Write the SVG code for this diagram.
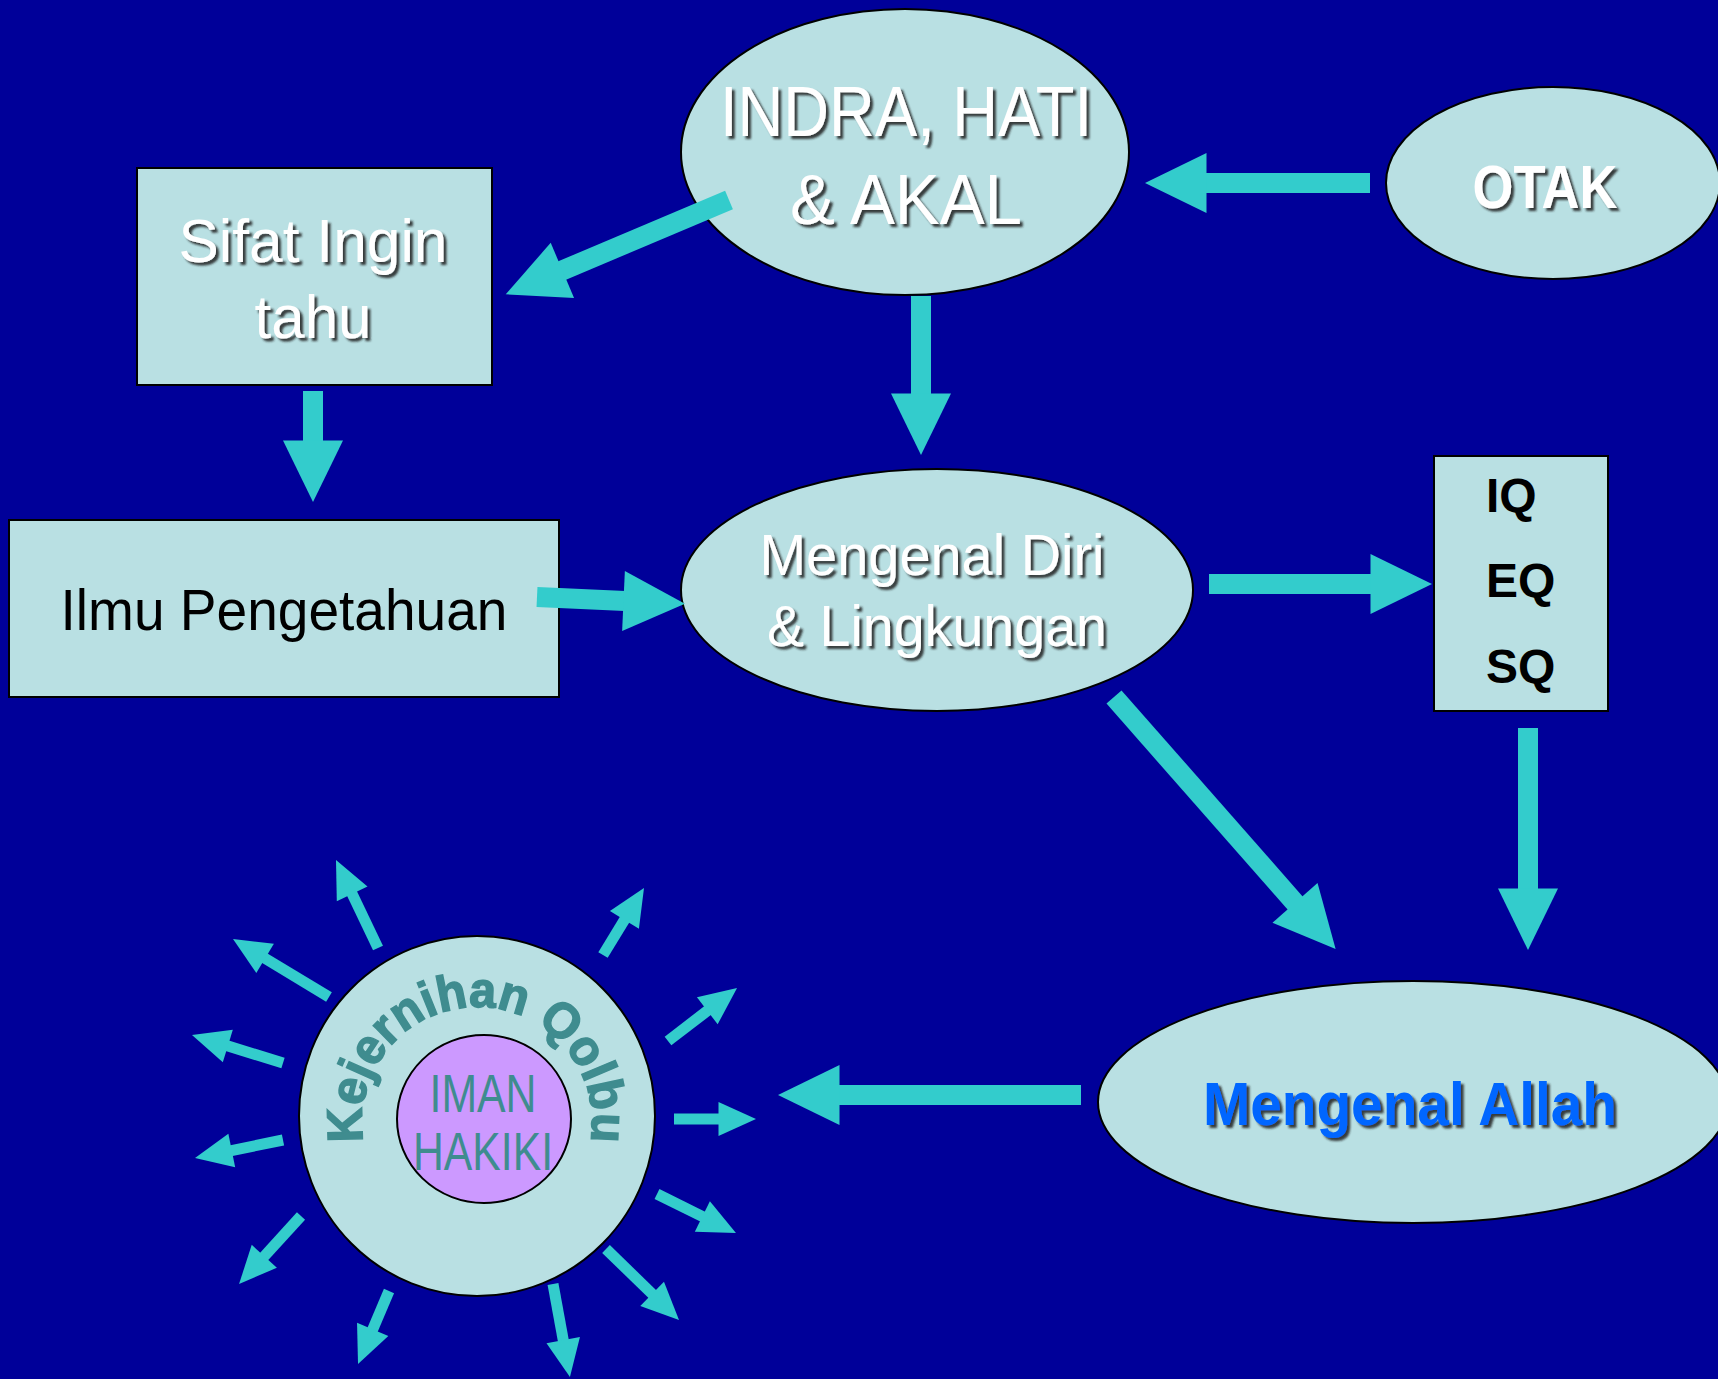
<svg xmlns="http://www.w3.org/2000/svg" width="1718" height="1379" viewBox="0 0 1718 1379">
<style>
.node{fill:#B9E0E3;stroke:#000;stroke-width:2}
.wt{font-family:"Liberation Sans",Arial,sans-serif;fill:#fff;text-anchor:middle;filter:url(#sh)}
.bk{font-family:"Liberation Sans",Arial,sans-serif;fill:#000;text-anchor:middle}
.tl{font-family:"Liberation Sans",Arial,sans-serif;fill:#3F8C8F;text-anchor:middle}
.m{stroke:#33CCCC;stroke-width:20;fill:none;marker-end:url(#hm)}
.s{stroke:#33CCCC;stroke-width:11;fill:none;marker-end:url(#hs)}
</style>
<defs>
<filter id="sh" x="-10%" y="-20%" width="130%" height="150%">
<feDropShadow dx="3" dy="3" stdDeviation="1.2" flood-color="#1a1a1a" flood-opacity="0.85"/>
</filter>
<marker id="hm" markerUnits="userSpaceOnUse" viewBox="-2 -30 62 60" markerWidth="62" markerHeight="60" refX="0" refY="0" orient="auto" overflow="visible">
<path d="M-1.5,-30 L60,0 L-1.5,30 z" fill="#33CCCC"/>
</marker>
<marker id="hs" markerUnits="userSpaceOnUse" viewBox="-2 -17 38 34" markerWidth="38" markerHeight="34" refX="0" refY="0" orient="auto" overflow="visible">
<path d="M-1.5,-17 L36,0 L-1.5,17 z" fill="#33CCCC"/>
</marker>
<path id="arc" d="M363.75,1141.97 A115,115 0 1 1 590.25,1141.97"/>
</defs>
<rect width="1718" height="1379" fill="#000099"/>

<g id="indra">
<ellipse class="node" cx="905" cy="152" rx="224" ry="143"/>
<text class="wt" x="906" y="136" font-size="70" textLength="372" lengthAdjust="spacingAndGlyphs">INDRA, HATI</text>
<text class="wt" x="906" y="224" font-size="70" textLength="232" lengthAdjust="spacingAndGlyphs">&amp; AKAL</text>
</g>
<g id="otak">
<ellipse class="node" cx="1553" cy="183" rx="167" ry="96"/>
<text class="wt" x="1545" y="208" font-size="62" font-weight="bold" textLength="145" lengthAdjust="spacingAndGlyphs">OTAK</text>
</g>
<g id="sifat">
<rect class="node" x="137" y="168" width="355" height="217"/>
<text class="wt" x="313" y="262" font-size="61" textLength="269" lengthAdjust="spacingAndGlyphs">Sifat Ingin</text>
<text class="wt" x="313" y="338" font-size="61" textLength="117" lengthAdjust="spacingAndGlyphs">tahu</text>
</g>
<g id="ilmu">
<rect class="node" x="9" y="520" width="550" height="177"/>
<text class="bk" x="284" y="630" font-size="58" textLength="447" lengthAdjust="spacingAndGlyphs">Ilmu Pengetahuan</text>
</g>
<g id="diri">
<ellipse class="node" cx="937" cy="590" rx="256" ry="121"/>
<text class="wt" x="932" y="575" font-size="58" textLength="345" lengthAdjust="spacingAndGlyphs">Mengenal Diri</text>
<text class="wt" x="937" y="646" font-size="58" textLength="340" lengthAdjust="spacingAndGlyphs">&amp; Lingkungan</text>
</g>
<g id="q">
<rect class="node" x="1434" y="456" width="174" height="255"/>
<text class="bk" x="1486" y="512" font-size="48" font-weight="bold" style="text-anchor:start">IQ</text>
<text class="bk" x="1486" y="597" font-size="48" font-weight="bold" style="text-anchor:start">EQ</text>
<text class="bk" x="1486" y="683" font-size="48" font-weight="bold" style="text-anchor:start">SQ</text>
</g>
<g id="allah">
<ellipse class="node" cx="1413" cy="1102" rx="315" ry="121"/>
<text class="wt" x="1410" y="1125" font-size="61" font-weight="bold" style="fill:#0066FF" textLength="414" lengthAdjust="spacingAndGlyphs">Mengenal Allah</text>
</g>
<g id="qolbu">
<ellipse class="node" cx="477" cy="1116" rx="178" ry="180"/>
<text class="tl" font-size="50" font-weight="bold" stroke="#3F8C8F" stroke-width="1.5" style="text-anchor:start"><textPath href="#arc" textLength="401" lengthAdjust="spacingAndGlyphs">Kejernihan Qolbu</textPath></text>
</g>
<g id="iman">
<ellipse cx="484" cy="1119" rx="87" ry="84" fill="#CC99FF" stroke="#000" stroke-width="2"/>
<text class="tl" x="483" y="1112" font-size="53" textLength="107" lengthAdjust="spacingAndGlyphs">IMAN</text>
<text class="tl" x="483" y="1170" font-size="53" textLength="140" lengthAdjust="spacingAndGlyphs">HAKIKI</text>
</g>

<g id="connectors">
<line class="m" x1="729" y1="200" x2="561" y2="271"/>
<line class="m" x1="921" y1="296" x2="921" y2="395"/>
<line class="m" x1="1370" y1="183" x2="1205" y2="183"/>
<line class="m" x1="313" y1="391" x2="313" y2="442"/>
<line class="m" x1="537" y1="597" x2="625" y2="601"/>
<line class="m" x1="1209" y1="584" x2="1372" y2="584"/>
<line class="m" x1="1114" y1="697" x2="1296" y2="904"/>
<line class="m" x1="1528" y1="728" x2="1528" y2="890"/>
<line class="m" x1="1081" y1="1095" x2="838" y2="1095"/>
<line class="s" x1="378" y1="948" x2="351.5" y2="892.5"/>
<line class="s" x1="329" y1="997" x2="263.8" y2="957.6"/>
<line class="s" x1="283" y1="1063" x2="226.4" y2="1045.6"/>
<line class="s" x1="283" y1="1140" x2="230.3" y2="1150.8"/>
<line class="s" x1="301" y1="1216" x2="263.3" y2="1257.4"/>
<line class="s" x1="389" y1="1291" x2="372.1" y2="1330.8"/>
<line class="s" x1="553" y1="1284" x2="563.5" y2="1341.6"/>
<line class="s" x1="606" y1="1249" x2="653.2" y2="1294.9"/>
<line class="s" x1="657" y1="1194" x2="703.7" y2="1217.1"/>
<line class="s" x1="674" y1="1119" x2="720" y2="1119"/>
<line class="s" x1="668" y1="1041" x2="708.5" y2="1009.9"/>
<line class="s" x1="603" y1="955" x2="625.2" y2="918.7"/>
</g>
</svg>
